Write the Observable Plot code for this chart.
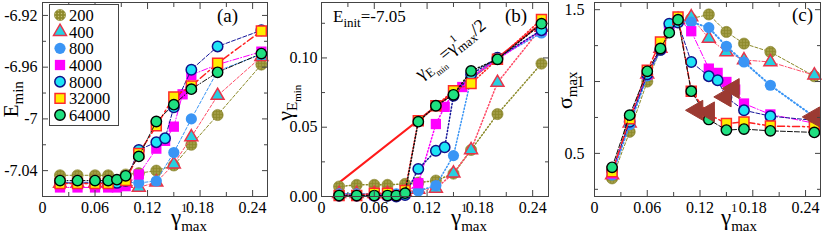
<!DOCTYPE html>
<html><head><meta charset="utf-8">
<script src="https://cdn.jsdelivr.net/npm/d3@7"></script>
<script src="https://cdn.jsdelivr.net/npm/@observablehq/plot@0.6"></script>
<style>
body{margin:0;background:#fff;}
#chart{position:relative;width:822px;height:244px;overflow:hidden;}
#chart svg{position:absolute;top:0;}
</style></head><body>
<svg width="0" height="0" style="position:absolute;left:0;top:0">
  <defs>
    <pattern id="oliveTex" patternUnits="userSpaceOnUse" width="3" height="3">
      <rect width="3" height="3" fill="#8e8a2c"></rect>
      <circle cx="1.5" cy="1.5" r="0.7" fill="#c9c27a"></circle>
    </pattern>
  </defs>
</svg>
<div id="chart"></div>
<script>
// ---------- data ----------
const seriesNames = ["200", "400", "800", "4000", "8000", "32000", "64000"];

const x200   = [0.02, 0.04, 0.06, 0.075, 0.095, 0.11, 0.13, 0.15, 0.17, 0.2, 0.25];
const x400   = [0.02, 0.04, 0.06, 0.075, 0.095, 0.11, 0.13, 0.15, 0.17, 0.2, 0.25];
const x800   = [0.02, 0.04, 0.06, 0.075, 0.085, 0.095, 0.11, 0.13, 0.15, 0.17, 0.2, 0.25];
const x4000  = [0.02, 0.04, 0.06, 0.075, 0.085, 0.095, 0.11, 0.13, 0.14, 0.15, 0.16, 0.17, 0.2, 0.25];
const x8000  = [0.02, 0.04, 0.06, 0.075, 0.085, 0.095, 0.11, 0.13, 0.14, 0.15, 0.17, 0.2, 0.25];
const x32000 = [0.02, 0.04, 0.06, 0.075, 0.095, 0.11, 0.13, 0.15, 0.17, 0.2, 0.25];
const x64000 = [0.02, 0.04, 0.06, 0.075, 0.085, 0.095, 0.11, 0.13, 0.15, 0.17, 0.2, 0.25];

// panel (a): E_min
const eMin200   = [-7.0436, -7.0436, -7.0436, -7.0436, -7.043, -7.042, -7.040, -7.036, -7.020, -6.997, -6.958];
const eMin400   = [-7.050, -7.050, -7.050, -7.050, -7.050, -7.053, -7.049, -7.035, -7.014, -6.982, -6.952];
const eMin800   = [-7.049, -7.049, -7.049, -7.049, -7.049, -7.049, -7.0495, -7.048, -7.026, -7.000, -6.963, -6.950];
const eMin4000  = [-7.053, -7.053, -7.053, -7.053, -7.053, -7.052, -7.043, -7.023, -7.017, -7.006, -6.981, -6.966, -6.958, -6.948];
const eMin8000  = [-7.0495, -7.0495, -7.0495, -7.0495, -7.0495, -7.048, -7.024, -7.018, -7.015, -6.991, -6.962, -6.944, -6.9315];
const eMin32000 = [-7.050, -7.050, -7.050, -7.050, -7.0477, -7.0267, -7.0054, -6.983, -6.9746, -6.957, -6.932];
const eMin64000 = [-7.0477, -7.0477, -7.0477, -7.0477, -7.047, -7.044, -7.029, -7.002, -6.989, -6.977, -6.964, -6.9495];

// panel (b): gamma_Emin
const gMin200   = [0.0072, 0.0084, 0.0084, 0.0084, 0.0091, 0.010, 0.0115, 0.0165, 0.0336, 0.0595, 0.0959];
const gMin400   = [0.002, 0.002, 0.002, 0.002, 0.003, 0.005, 0.0058, 0.0168, 0.0336, 0.0822, 0.122];
const gMin800   = [0.002, 0.002, 0.002, 0.002, 0.002, 0.002, 0.004, 0.0079, 0.0295, 0.085, 0.100, 0.118];
const gMin4000  = [0.001, 0.001, 0.001, 0.001, 0.001, 0.002, 0.0096, 0.0523, 0.0647, 0.075, 0.079, 0.086, 0.099, 0.120];
const gMin8000  = [0.0005, 0.0005, 0.0005, 0.0005, 0.0, 0.001, 0.0199, 0.033, 0.0355, 0.0727, 0.088, 0.1002, 0.120];
const gMin32000 = [0.0007, 0.0007, 0.0024, 0.0024, 0.0043, 0.0547, 0.0655, 0.0763, 0.0815, 0.099, 0.1278];
const gMin64000 = [0.0007, 0.0007, 0.0007, 0.0007, 0.0007, 0.0024, 0.054, 0.0655, 0.0734, 0.0906, 0.099, 0.1247];
const halfLineX = [0.02, 0.25];
const halfLineY = [0.01, 0.125];

// panel (c): sigma_max
const sMax200   = [0.326, 0.65, 1.0, 1.222, 1.42, 1.4375, 1.467, 1.345, 1.264, 1.206, 1.037];
const sMax400   = [0.35, 0.71, 1.05, 1.23, 1.43, 1.449, 1.30, 1.206, 1.15, 1.136, 1.044];
const sMax800   = [0.35, 0.70, 1.04, 1.22, 1.38, 1.42, 1.414, 1.375, 1.245, 1.136, 0.974, 0.754];
const sMax4000  = [0.36, 0.74, 1.05, 1.23, 1.36, 1.44, 1.35, 1.09, 1.06, 0.997, 0.944, 0.847, 0.771, 0.71];
const sMax8000  = [0.38, 0.72, 1.05, 1.22, 1.403, 1.41, 1.136, 1.037, 1.009, 0.89, 0.80, 0.759, 0.73];
const sMax32000 = [0.372, 0.74, 1.078, 1.275, 1.449, 0.933, 0.771, 0.708, 0.719, 0.69, 0.685];
const sMax64000 = [0.403, 0.766, 1.071, 1.23, 1.34, 1.43, 0.933, 0.736, 0.662, 0.669, 0.657, 0.646];
const arrowX = [0.1166, 0.1298, 0.1488, 0.158, 0.2494];
const arrowY = [0.800, 0.789, 0.893, 0.951, 0.754];

// ticks
const xTicks = [0, 0.06, 0.12, 0.18, 0.24];
const xTickLabels = ["0", "0.06", "0.12", "0.18", "0.24"];
const xMinor = [0.03, 0.09, 0.15, 0.21];
const aTicks = [-6.92, -6.96, -7.0, -7.04];
const aTickLabels = ["-6.92", "-6.96", "-7", "-7.04"];
const aMinor = [-6.94, -6.98, -7.02];
const bTicks = [0, 0.05, 0.10];
const bTickLabels = ["0.00", "0.05", "0.10"];
const bMinor = [0.025, 0.075, 0.125];
const cTicks = [0.5, 1, 1.5];
const cTickLabels = ["0.5", "1", "1.5"];
const cMinor = [0.25, 0.75, 1.25];

// ---------- styles ----------
const FONT = "Liberation Serif, Times New Roman, serif";
const styles = {
  "200":   {symbol: "circle",   r: 5.6, fill: "url(#oliveTex)", stroke: "#86822a", sw: 0.6, line: "#8c8a2a", dash: "3,2", dashC: "3,2", w: 1},
  "400":   {symbol: "triangle", r: 4.8, fill: "#27cfe0", stroke: "#e8334a", sw: 1.5, line: "#ff4a66", dash: "3,2", dashC: "4,2,1,2", w: 1},
  "800":   {symbol: "circle",   r: 5.6, fill: "#3a95f5", stroke: "none", sw: 0, line: "#3a95f5", dash: "3,2", dashC: "1.2,2.5", w: 1, wC: 2},
  "4000":  {symbol: "square",   r: 5.8, fill: "#ff00ff", stroke: "none", sw: 0, line: "#ff00ff", dash: "6,2,1,2", dashC: "6,2,1,2", w: 1},
  "8000":  {symbol: "circle",   r: 5.2, fill: "#1ee4f5", stroke: "#10108a", sw: 1.5, line: "#14149a", dash: "4,2", dashC: "4,2", w: 1},
  "32000": {symbol: "square",   r: 5.6, fill: "#ffee00", stroke: "#ff2a2a", sw: 1.5, line: "#ff2020", dash: "7,3,2,3", dashC: "7,3,2,3", w: 1.5},
  "64000": {symbol: "circle",   r: 5.2, fill: "#1fe080", stroke: "#000000", sw: 1.4, line: "#111111", dash: "5,2,1,2", dashC: "5,2", w: 1}
};
const xsBy = {"200": x200, "400": x400, "800": x800, "4000": x4000, "8000": x8000, "32000": x32000, "64000": x64000};
const aBy = {"200": eMin200, "400": eMin400, "800": eMin800, "4000": eMin4000, "8000": eMin8000, "32000": eMin32000, "64000": eMin64000};
const bBy = {"200": gMin200, "400": gMin400, "800": gMin800, "4000": gMin4000, "8000": gMin8000, "32000": gMin32000, "64000": gMin64000};
const cBy = {"200": sMax200, "400": sMax400, "800": sMax800, "4000": sMax4000, "8000": sMax8000, "32000": sMax32000, "64000": sMax64000};

const rows = seriesNames.flatMap(s => xsBy[s].map((x, i) => ({series: s, x, a: aBy[s][i], b: bBy[s][i], c: cBy[s][i]})));
const halfLine = halfLineX.map((x, i) => ({x, y: halfLineY[i]}));
const arrows = arrowX.map((x, i) => ({x, y: arrowY[i]}));

// ---------- helpers ----------
function axesMarks(yTicks, yLabels, yMinor, yPad) {
  const xl = new Map(xTicks.map((v, i) => [v, xTickLabels[i]]));
  const yl = new Map(yTicks.map((v, i) => [v, yLabels[i]]));
  const blank = () => "";
  return [
    Plot.axisX(xTicks, {anchor: "bottom", tickSize: 0, tickPadding: 5, tickFormat: d => xl.get(d), fontSize: 16, label: null}),
    Plot.axisX(xTicks, {anchor: "bottom", tickSize: -6, tickFormat: blank, label: null, stroke: "#444"}),
    Plot.axisX(xMinor, {anchor: "bottom", tickSize: -4, tickFormat: blank, label: null, stroke: "#444"}),
    Plot.axisX(xTicks, {anchor: "top", tickSize: -6, tickFormat: blank, label: null, stroke: "#444"}),
    Plot.axisX(xMinor, {anchor: "top", tickSize: -4, tickFormat: blank, label: null, stroke: "#444"}),
    Plot.axisY(yTicks, {anchor: "left", tickSize: 0, tickPadding: yPad, tickFormat: d => yl.get(d), fontSize: 16, label: null}),
    Plot.axisY(yTicks, {anchor: "left", tickSize: -6, tickFormat: blank, label: null, stroke: "#444"}),
    Plot.axisY(yMinor, {anchor: "left", tickSize: -4, tickFormat: blank, label: null, stroke: "#444"}),
    Plot.axisY(yTicks, {anchor: "right", tickSize: -6, tickFormat: blank, label: null, stroke: "#444"}),
    Plot.axisY(yMinor, {anchor: "right", tickSize: -4, tickFormat: blank, label: null, stroke: "#444"})
  ];
}

function seriesMarks(key, panel) {
  const marks = [];
  for (const s of seriesNames) {
    const st = styles[s];
    const data = rows.filter(d => d.series === s);
    let dash = st.dash, w = st.w;
    if (panel === "b") { dash = "1.2,2.2"; w = 1.5; }
    if (panel === "c") { dash = st.dashC; w = st.wC || st.w; }
    marks.push(Plot.line(data, {x: "x", y: key, stroke: st.line, strokeWidth: w, strokeDasharray: dash}));
    marks.push(Plot.dot(data, {x: "x", y: key, symbol: st.symbol, r: st.r, fill: st.fill, stroke: st.stroke, strokeWidth: st.sw}));
  }
  return marks;
}

function rich(svg, x, y, parts, {anchor = "start", rotate = 0} = {}) {
  const g = d3.select(svg).append("g").attr("transform", `translate(${x},${y}) rotate(${rotate})`);
  const t = g.append("text").attr("font-family", FONT).attr("fill", "#000").attr("text-anchor", "start");
  let cur = 0, prevW = 0;
  for (const p of parts) {
    const sh = p.sh || 0;
    const ts = t.append("tspan").text(p.t).attr("font-size", p.s);
    if (sh !== cur) ts.attr("dy", sh - cur);
    if (p.back) ts.attr("dx", -prevW);
    cur = sh;
    prevW = ts.node().getComputedTextLength();
  }
  if (anchor === "middle") {
    const bb = t.node().getBBox();
    t.attr("x", -bb.width / 2);
  }
  return g;
}

const container = document.getElementById("chart");
const common = {height: 244, marginTop: 2, marginBottom: 48, style: {fontFamily: FONT, fontSize: "16px", background: "transparent", color: "#000"}};

// ---------- panel (a) ----------
const pa = Plot.plot({
  ...common, width: 270, marginLeft: 42, marginRight: 3,
  x: {domain: [0, 0.257]}, y: {domain: [-7.06, -6.91]},
  marks: [
    ...seriesMarks("a", "a"),
    Plot.frame({stroke: "#444"}),
    ...axesMarks(aTicks, aTickLabels, aMinor, 5)
  ]
});
pa.style.left = "0px";
container.appendChild(pa);

// ---------- panel (b) ----------
const pb = Plot.plot({
  ...common, width: 280, marginLeft: 51, marginRight: 2,
  x: {domain: [0, 0.258]}, y: {domain: [0, 0.14]},
  marks: [
    Plot.line(halfLine, {x: "x", y: "y", stroke: "#ff1a1a", strokeWidth: 2}),
    ...seriesMarks("b", "b"),
    Plot.frame({stroke: "#444"}),
    ...axesMarks(bTicks, bTickLabels, bMinor, 4)
  ]
});
pb.style.left = "270px";
container.appendChild(pb);

// ---------- panel (c) ----------
const pc = Plot.plot({
  ...common, width: 272, marginLeft: 44, marginRight: 2,
  x: {domain: [0, 0.257]}, y: {domain: [0.2, 1.55]},
  marks: [
    ...seriesMarks("c", "c"),
    Plot.dot(arrows, {x: "x", y: "y", symbol: "triangle", r: 7.4, rotate: -90, fill: "#9c3a32", stroke: "#9c3a32", strokeWidth: 1}),
    Plot.frame({stroke: "#444"}),
    ...axesMarks(cTicks, cTickLabels, cMinor, 10)
  ]
});
pc.style.left = "550px";
container.appendChild(pc);

// ---------- text labels ----------
const xLab = [{t: "γ", s: 23}, {t: "1", s: 12, sh: -13}, {t: "max", s: 15, sh: 6, back: true}];
rich(pa, 171, 225, xLab);
rich(pb, 451 - 270, 225, xLab);
rich(pc, 721 - 550, 225, xLab);

rich(pa, 18, 99, [{t: "E", s: 21}, {t: "min", s: 15, sh: 5}], {anchor: "middle", rotate: -90});
rich(pb, 292 - 270, 102, [{t: "γ", s: 22}, {t: "E", s: 15, sh: 5}, {t: "min", s: 11, sh: 9}], {anchor: "middle", rotate: -90});
rich(pc, 572 - 550, 90, [{t: "σ", s: 22}, {t: "max", s: 15, sh: 5}], {anchor: "middle", rotate: -90});

rich(pa, 217, 22, [{t: "(a)", s: 19}]);
rich(pb, 505 - 270, 22, [{t: "(b)", s: 19}]);
rich(pc, 792 - 550, 21, [{t: "(c)", s: 19}]);

rich(pb, 333 - 270, 22, [{t: "E", s: 17}, {t: "init", s: 13, sh: 5}, {t: "=-7.05", s: 17, sh: 0}]);
rich(pb, 421 - 270, 80, [{t: "γ", s: 18}, {t: "E", s: 13, sh: 4}, {t: "min", s: 9, sh: 8}, {t: "=γ", s: 18, sh: 0},
  {t: "1", s: 11, sh: -9}, {t: "max", s: 13, sh: 4, back: true}, {t: "/2", s: 18, sh: 0}], {rotate: -38.5});

// ---------- legend (panel a) ----------
const lg = d3.select(pa).append("g");
lg.append("rect").attr("x", 49.5).attr("y", 4.5).attr("width", 69).attr("height", 121).attr("fill", "#fff").attr("stroke", "#444");
const symMap = {circle: d3.symbolCircle, triangle: d3.symbolTriangle, square: d3.symbolSquare};
seriesNames.forEach((s, i) => {
  const st = styles[s];
  const cy = 15 + i * 16.67;
  lg.append("path").attr("transform", `translate(60,${cy})`)
    .attr("d", d3.symbol(symMap[st.symbol], Math.PI * st.r * st.r)())
    .attr("fill", st.fill).attr("stroke", st.stroke).attr("stroke-width", st.sw);
  lg.append("text").attr("x", 69).attr("y", cy + 6).attr("text-anchor", "start")
    .attr("font-family", FONT).attr("font-size", 16.5).text(s);
});
</script></body></html>
